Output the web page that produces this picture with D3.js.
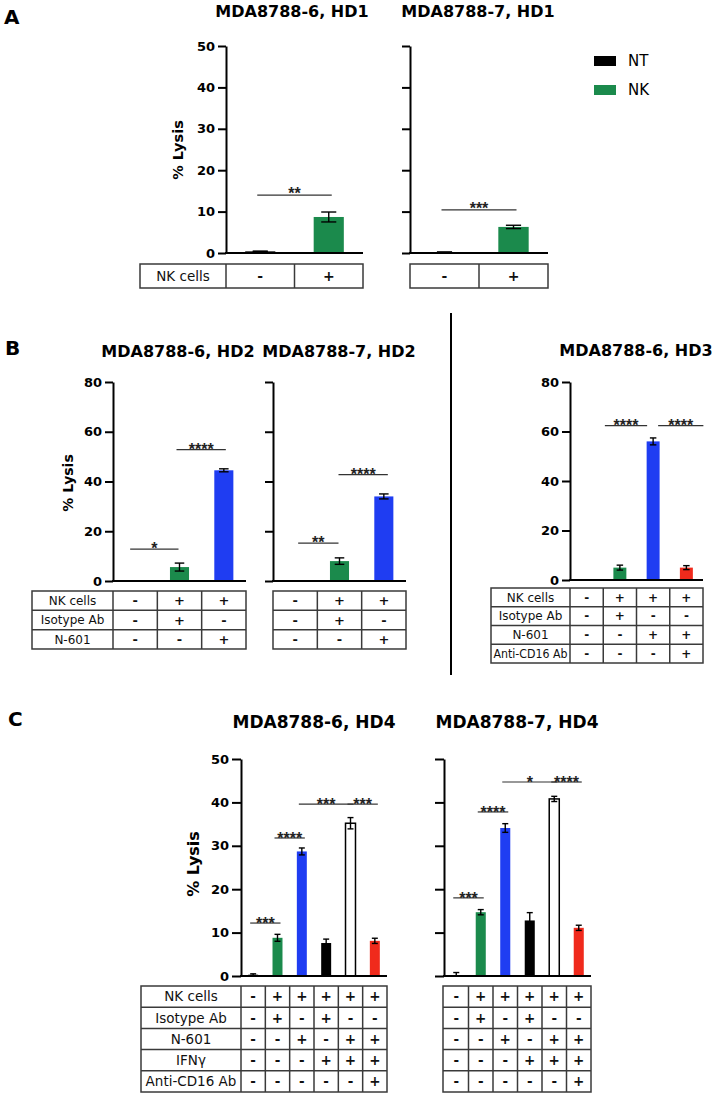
<!DOCTYPE html>
<html><head><meta charset="utf-8">
<script src="https://cdn.jsdelivr.net/npm/d3@7"></script>
<style>body{margin:0;background:#fff} svg{display:block}</style>
</head><body><svg id="fig" width="714" height="1097"></svg>
<script>
// ================= DATA =================
// Panel A
const aGroups = ["NT", "NK"];
const a1Values = [0.4, 8.7];
const a1Errors = [0.05, 1.2];
const a2Values = [0.2, 6.3];
const a2Errors = [0.05, 0.4];
const aRowLabels = ["NK cells"];
const aRows = [["-", "+"]];
const a1Sig = [{from: 0, to: 1, y: 14.0, label: "**"}];
const a2Sig = [{from: 0, to: 1, y: 10.4, label: "***"}];
const aTicks = [0, 10, 20, 30, 40, 50];
const legendLabels = ["NT", "NK"];

// Panel B
const bGroups = ["NT", "NK+Iso", "NK+N601"];
const b1Values = [0.1, 5.6, 44.5];
const b1Errors = [0, 1.6, 0.6];
const b2Values = [0.1, 8.0, 34.0];
const b2Errors = [0, 1.3, 1.0];
const bRowLabels = ["NK cells", "Isotype Ab", "N-601"];
const bRows = [["-", "+", "+"], ["-", "+", "-"], ["-", "-", "+"]];
const b1Sig = [{from: 0, to: 1, y: 12.8, label: "*"}, {from: 1, to: 2, y: 52.8, label: "****"}];
const b2Sig = [{from: 0, to: 1, y: 15.2, label: "**"}, {from: 1, to: 2, y: 42.8, label: "****"}];
const b3Groups = ["NT", "NK+Iso", "NK+N601", "NK+N601+CD16"];
const b3Values = [0.1, 5.0, 56.0, 5.0];
const b3Errors = [0, 1.0, 1.4, 0.8];
const b3RowLabels = ["NK cells", "Isotype Ab", "N-601", "Anti-CD16 Ab"];
const b3Rows = [["-", "+", "+", "+"], ["-", "+", "-", "-"], ["-", "-", "+", "+"], ["-", "-", "-", "+"]];
const b3Sig = [{from: 1, to: 2, y: 62.4, label: "****"}, {from: 2, to: 3, y: 62.4, label: "****"}];
const bTicks = [0, 20, 40, 60, 80];

// Panel C
const cGroups = ["NT", "NK+Iso", "NK+N601", "NK+Iso+IFN", "NK+N601+IFN", "NK+N601+IFN+CD16"];
const c1Values = [0.3, 8.8, 28.7, 7.6, 35.2, 8.1];
const c1Errors = [0.2, 0.8, 0.8, 0.9, 1.3, 0.6];
const c2Values = [0.2, 14.7, 34.1, 12.8, 40.8, 11.1];
const c2Errors = [0.6, 0.6, 1.0, 1.8, 0.6, 0.6];
const cRowLabels = ["NK cells", "Isotype Ab", "N-601", "IFNγ", "Anti-CD16 Ab"];
const cRows = [
  ["-", "+", "+", "+", "+", "+"],
  ["-", "+", "-", "+", "-", "-"],
  ["-", "-", "+", "-", "+", "+"],
  ["-", "-", "-", "+", "+", "+"],
  ["-", "-", "-", "-", "-", "+"]
];
const c1Sig = [
  {from: 0, to: 1, y: 12.2, label: "***"},
  {from: 1, to: 2, y: 31.8, label: "****"},
  {from: 2, to: 4, y: 39.6, label: "***"},
  {from: 4, to: 5, y: 39.6, label: "***"}
];
const c2Sig = [
  {from: 0, to: 1, y: 18.0, label: "***"},
  {from: 1, to: 2, y: 37.8, label: "****"},
  {from: 2, to: 4, y: 44.7, label: "*"},
  {from: 4, to: 5, y: 44.7, label: "****"}
];
const cTicks = [0, 10, 20, 30, 40, 50];

const titles = {
  a1: "MDA8788-6, HD1", a2: "MDA8788-7, HD1",
  b1: "MDA8788-6, HD2", b2: "MDA8788-7, HD2", b3: "MDA8788-6, HD3",
  c1: "MDA8788-6, HD4", c2: "MDA8788-7, HD4"
};
const yLabel = "% Lysis";

// ================= STYLE / LAYOUT =================
const FONT = "'DejaVu Sans', 'Liberation Sans', Arial, sans-serif";
const STARFONT = "'Liberation Sans', Arial, sans-serif";
const fillByGroup = {
  "NT": "#000000", "NK": "#1b8a4c", "NK+Iso": "#1b8a4c", "NK+N601": "#1f3df2",
  "NK+Iso+IFN": "#000000", "NK+N601+IFN": "#ffffff",
  "NK+N601+CD16": "#f02a1c", "NK+N601+IFN+CD16": "#f02a1c"
};

const svg = d3.select("#fig");

function drawChart(cfg) {
  const L = cfg.layout;
  const g = svg.append("g");
  const n = cfg.groups.length;
  const x = d3.scaleBand().domain(d3.range(n)).range([L.colStart, L.right]).paddingInner(0).paddingOuter(0);
  const y = d3.scaleLinear().domain([0, d3.max(cfg.ticks)]).range([L.y0, L.yTop]);
  const bw = x.bandwidth() * L.barFrac;
  const cx = i => x(i) + x.bandwidth() / 2;
  const data = cfg.values.map((v, i) => ({i, v, e: cfg.errors[i], grp: cfg.groups[i]}));

  // bars
  g.selectAll("rect.bar").data(data).join("rect")
    .attr("class", "bar")
    .attr("x", d => cx(d.i) - bw / 2)
    .attr("y", d => y(d.v))
    .attr("width", bw)
    .attr("height", d => y(0) - y(d.v))
    .attr("fill", d => fillByGroup[d.grp])
    .attr("stroke", d => fillByGroup[d.grp] === "#ffffff" ? "#000" : "none")
    .attr("stroke-width", 1.5);

  // error bars
  const cap = bw * L.capFrac;
  const eb = g.selectAll("g.err").data(data.filter(d => d.e > 0)).join("g").attr("class", "err")
    .attr("stroke", "#000").attr("stroke-width", 1.4);
  eb.append("line")
    .attr("x1", d => cx(d.i)).attr("x2", d => cx(d.i))
    .attr("y1", d => y(d.v + d.e)).attr("y2", d => y(Math.max(0, d.v - d.e)));
  eb.append("line")
    .attr("x1", d => cx(d.i) - cap / 2).attr("x2", d => cx(d.i) + cap / 2)
    .attr("y1", d => y(d.v + d.e)).attr("y2", d => y(d.v + d.e));
  eb.filter(d => d.v - d.e > 0).append("line")
    .attr("x1", d => cx(d.i) - cap / 2).attr("x2", d => cx(d.i) + cap / 2)
    .attr("y1", d => y(d.v - d.e)).attr("y2", d => y(d.v - d.e));

  // y axis
  const axis = d3.axisLeft(y).tickValues(cfg.ticks).tickSize(L.tick).tickSizeOuter(0).tickPadding(3);
  if (!cfg.tickLabels) axis.tickFormat("");
  const ag = g.append("g").attr("transform", `translate(${L.colStart},0)`).call(axis);
  ag.select(".domain").attr("stroke-width", 2).attr("stroke", "#000");
  ag.selectAll(".tick line").attr("stroke-width", 2).attr("stroke", "#000");
  ag.selectAll(".tick text").attr("font-family", FONT).attr("font-weight", "bold")
    .attr("font-size", 13).attr("fill", "#000");

  // x baseline
  g.append("line").attr("x1", L.colStart - 1).attr("x2", L.right)
    .attr("y1", y(0)).attr("y2", y(0)).attr("stroke", "#000").attr("stroke-width", 2);

  // significance
  cfg.sig.forEach((s, k) => {
    const nudge = (L.sigNudge && L.sigNudge[k]) || [-3, 3];
    const x1 = cx(s.from) + nudge[0], x2 = cx(s.to) + nudge[1];
    g.append("line").attr("x1", x1).attr("x2", x2).attr("y1", y(s.y)).attr("y2", y(s.y))
      .attr("stroke", "#333").attr("stroke-width", 1.2);
    g.append("text").attr("x", (x1 + x2) / 2).attr("y", y(s.y) + L.starDy)
      .attr("text-anchor", "middle").attr("font-family", STARFONT).attr("font-weight", "bold")
      .attr("font-size", 16).attr("fill", "#222").text(s.label);
  });

  // title
  g.append("text").attr("x", L.titleX).attr("y", L.titleY).attr("text-anchor", "middle")
    .attr("font-family", FONT).attr("font-weight", "bold").attr("font-size", L.titleSize)
    .attr("fill", "#000").text(cfg.title);

  // y label
  if (L.ylabX !== undefined) {
    g.append("text").attr("transform", `translate(${L.ylabX},${L.ylabY}) rotate(-90)`)
      .attr("text-anchor", "middle").attr("dy", "0.36em")
      .attr("font-family", FONT).attr("font-weight", "bold").attr("font-size", L.ylabSize)
      .attr("fill", "#000").text(yLabel);
  }

  // table
  const t = g.append("g");
  const nRows = cfg.rows.length;
  const tBottom = L.tableTop + nRows * L.rowH;
  t.append("rect").attr("x", L.tableLeft).attr("y", L.tableTop)
    .attr("width", L.right - L.tableLeft).attr("height", tBottom - L.tableTop)
    .attr("fill", "none").attr("stroke", "#3a3a3a").attr("stroke-width", 1.5);
  for (let r = 1; r < nRows; r++) {
    t.append("line").attr("x1", L.tableLeft).attr("x2", L.right)
      .attr("y1", L.tableTop + r * L.rowH).attr("y2", L.tableTop + r * L.rowH)
      .attr("stroke", "#3a3a3a").attr("stroke-width", 1.5);
  }
  const vlines = d3.range(n).map(i => x(i)).filter(v => v > L.tableLeft + 1);
  vlines.forEach(v => {
    t.append("line").attr("x1", v).attr("x2", v).attr("y1", L.tableTop).attr("y2", tBottom)
      .attr("stroke", "#3a3a3a").attr("stroke-width", 1.5);
  });
  cfg.rows.forEach((row, r) => {
    const yc = L.tableTop + (r + 0.5) * L.rowH;
    if (cfg.rowLabels) {
      const lab = t.append("text").attr("x", (L.tableLeft + L.colStart) / 2).attr("y", yc)
        .attr("dy", "0.36em").attr("text-anchor", "middle").attr("font-family", FONT)
        .attr("font-size", L.labSize).attr("fill", "#111").text(cfg.rowLabels[r]);
      const maxW = L.colStart - L.tableLeft - 5;
      if (lab.node().getComputedTextLength() > maxW) {
        lab.attr("textLength", maxW).attr("lengthAdjust", "spacingAndGlyphs");
      }
    }
    row.forEach((sym, i) => {
      t.append("text").attr("x", cx(i)).attr("y", yc).attr("dy", "0.36em")
        .attr("text-anchor", "middle").attr("font-family", FONT).attr("font-weight", "bold")
        .attr("font-size", L.symSize).attr("fill", "#111").text(sym);
    });
  });
}

// Panel letters
[["A", 4, 24], ["B", 5, 355], ["C", 8, 726]].forEach(([s, px, py]) => {
  svg.append("text").attr("x", px).attr("y", py).attr("font-family", FONT).attr("font-weight", "bold")
    .attr("font-size", 20).attr("fill", "#000").text(s);
});

const layA = {yTop: 46, y0: 253, tableTop: 264, rowH: 24, barFrac: 0.44, capFrac: 0.5, tick: 8,
  starDy: 4, titleY: 17, titleSize: 16, labSize: 13.5, symSize: 14};
drawChart({groups: aGroups, values: a1Values, errors: a1Errors, rows: aRows, rowLabels: aRowLabels,
  sig: a1Sig, ticks: aTicks, tickLabels: true, title: titles.a1,
  layout: Object.assign({}, layA, {tableLeft: 140, colStart: 226, right: 363, titleX: 292,
    ylabX: 178, ylabY: 150, ylabSize: 14.5})});
drawChart({groups: aGroups, values: a2Values, errors: a2Errors, rows: aRows, rowLabels: null,
  sig: a2Sig, ticks: aTicks, tickLabels: false, title: titles.a2,
  layout: Object.assign({}, layA, {tableLeft: 410, colStart: 410, right: 548, titleX: 478})});

// Legend
const legendColors = [fillByGroup["NT"], fillByGroup["NK"]];
const legendY = [61, 90];
legendLabels.forEach((lab, i) => {
  svg.append("rect").attr("x", 594).attr("y", legendY[i] - 5).attr("width", 22).attr("height", 10)
    .attr("fill", legendColors[i]);
  svg.append("text").attr("x", 628).attr("y", legendY[i]).attr("dy", "0.36em")
    .attr("font-family", FONT).attr("font-size", 15).attr("fill", "#000").text(lab);
});

const layB = {yTop: 382, y0: 581, tableTop: 591, rowH: 19.33, barFrac: 0.43, capFrac: 0.5, tick: 8,
  starDy: 5, titleY: 357, titleSize: 16, labSize: 12, symSize: 13};
drawChart({groups: bGroups, values: b1Values, errors: b1Errors, rows: bRows, rowLabels: bRowLabels,
  sig: b1Sig, ticks: bTicks, tickLabels: true, title: titles.b1,
  layout: Object.assign({}, layB, {tableLeft: 32, colStart: 113, right: 246, titleX: 178,
    ylabX: 68, ylabY: 483, ylabSize: 14, sigNudge: [[-5, -1], [-3, 2]]})});
drawChart({groups: bGroups, values: b2Values, errors: b2Errors, rows: bRows, rowLabels: null,
  sig: b2Sig, ticks: bTicks, tickLabels: false, title: titles.b2,
  layout: Object.assign({}, layB, {tableLeft: 273, colStart: 273, right: 406, titleX: 339,
    sigNudge: [[3, -1], [-1, 4]]})});
drawChart({groups: b3Groups, values: b3Values, errors: b3Errors, rows: b3Rows, rowLabels: b3RowLabels,
  sig: b3Sig, ticks: bTicks, tickLabels: true, title: titles.b3,
  layout: Object.assign({}, layB, {tableLeft: 491, colStart: 570, right: 703, y0: 580, tableTop: 588,
    rowH: 18.75, barFrac: 0.39, titleX: 636, titleY: 356, labSize: 12, symSize: 12,
    sigNudge: [[-15, -6], [5, 17]]})});

// divider in panel B
svg.append("line").attr("x1", 451).attr("x2", 451).attr("y1", 313).attr("y2", 675)
  .attr("stroke", "#000").attr("stroke-width", 2);

const layC = {yTop: 759, y0: 976, tableTop: 986, rowH: 21.2, barFrac: 0.41, capFrac: 0.6, tick: 9,
  starDy: 6, titleY: 728, titleSize: 17, labSize: 13.5, symSize: 13.5};
drawChart({groups: cGroups, values: c1Values, errors: c1Errors, rows: cRows, rowLabels: cRowLabels,
  sig: c1Sig, ticks: cTicks, tickLabels: true, title: titles.c1,
  layout: Object.assign({}, layC, {tableLeft: 141, colStart: 241, right: 387, titleX: 314,
    ylabX: 193, ylabY: 864, ylabSize: 16})});
drawChart({groups: cGroups, values: c2Values, errors: c2Errors, rows: cRows, rowLabels: null,
  sig: c2Sig, ticks: cTicks, tickLabels: false, title: titles.c2,
  layout: Object.assign({}, layC, {tableLeft: 443, colStart: 444, right: 591, titleX: 517})});
</script>
</body></html>
